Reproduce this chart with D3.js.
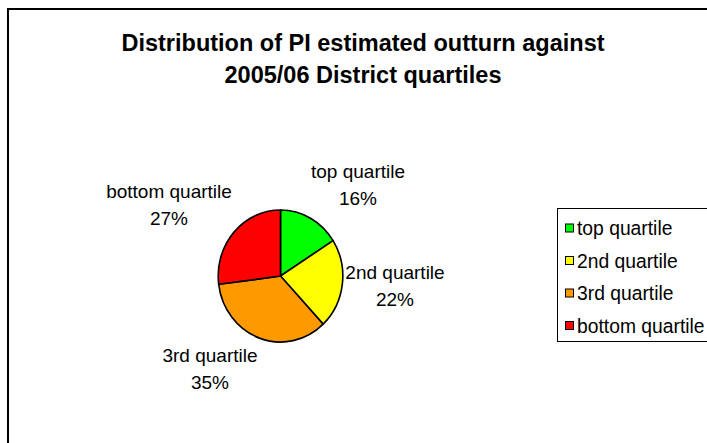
<!DOCTYPE html>
<html>
<head>
<meta charset="utf-8">
<script src="https://cdn.jsdelivr.net/npm/d3@7/dist/d3.min.js"></script>
<style>
  html, body { margin: 0; padding: 0; background: #fff; }
  svg { display: block; font-family: "Liberation Sans", Arial, sans-serif; }
</style>
</head>
<body>
<svg id="chart" width="707" height="443"></svg>
<script>
// Quartile shares of estimated outturn, clockwise from 12 o'clock
const categories = ["top quartile", "2nd quartile", "3rd quartile", "bottom quartile"];
const shares = [16, 22, 35, 27];
const colors = ["#00FF00", "#FFFF00", "#FF9900", "#FF0000"];
const titleLines = ["Distribution of PI estimated outturn against", "2005/06 District quartiles"];

const svg = d3.select("#chart");

// Chart frame (continues past the right and bottom edges)
svg.append("rect")
  .attr("x", 8).attr("y", 9)
  .attr("width", 760).attr("height", 500)
  .attr("fill", "#fff").attr("stroke", "#000").attr("stroke-width", 2);

// Title
svg.append("g").selectAll("text")
  .data(titleLines)
  .join("text")
  .attr("x", 363)
  .attr("y", (d, i) => 51 + i * 32)
  .attr("text-anchor", "middle")
  .attr("font-weight", "bold")
  .attr("font-size", 23.5)
  .attr("fill", "#000")
  .text(d => d);

// Pie
const cx = 280.5, cy = 276, rx = 62.3, ry = 66;
const pie = d3.pie().sort(null).value(d => d)
  .startAngle(0).endAngle(2 * Math.PI);
const arcs = pie(shares);
const arc = d3.arc().innerRadius(0).outerRadius(rx);

svg.append("g")
  .attr("transform", `translate(${cx},${cy}) scale(1,${ry / rx})`)
  .selectAll("path")
  .data(arcs)
  .join("path")
  .attr("d", arc)
  .attr("fill", (d, i) => colors[i])
  .attr("stroke", "#000")
  .attr("stroke-width", 1.6)
  .attr("stroke-linejoin", "round");

// Slice labels: name on the first line, percentage on the second
const labelPos = [
  { x: 358, y: 178 },
  { x: 395, y: 279 },
  { x: 210, y: 362 },
  { x: 169, y: 198 }
];
const total = d3.sum(shares);
const labels = svg.append("g")
  .selectAll("text")
  .data(arcs)
  .join("text")
  .attr("text-anchor", "middle")
  .attr("font-size", 19)
  .attr("fill", "#000");
labels.append("tspan")
  .attr("x", (d, i) => labelPos[i].x)
  .attr("y", (d, i) => labelPos[i].y)
  .text((d, i) => categories[i]);
labels.append("tspan")
  .attr("x", (d, i) => labelPos[i].x)
  .attr("y", (d, i) => labelPos[i].y + 27)
  .text(d => Math.round(d.data / total * 100) + "%");

// Legend
const legend = svg.append("g");
legend.append("rect")
  .attr("x", 557.5).attr("y", 208.5)
  .attr("width", 200).attr("height", 133)
  .attr("fill", "#fff").attr("stroke", "#000").attr("stroke-width", 1);

const rowY = d3.scalePoint().domain(categories).range([228.5, 326]);
const rows = legend.selectAll("g.row")
  .data(categories)
  .join("g")
  .attr("class", "row")
  .attr("transform", d => `translate(0,${rowY(d)})`);
rows.append("rect")
  .attr("x", 565.5).attr("y", -4.5)
  .attr("width", 8).attr("height", 8)
  .attr("fill", (d, i) => colors[i])
  .attr("stroke", "#000").attr("stroke-width", 1);
rows.append("text")
  .attr("x", 577).attr("y", 6.5)
  .attr("font-size", 19.3)
  .attr("fill", "#000")
  .text(d => d);
</script>
</body>
</html>
